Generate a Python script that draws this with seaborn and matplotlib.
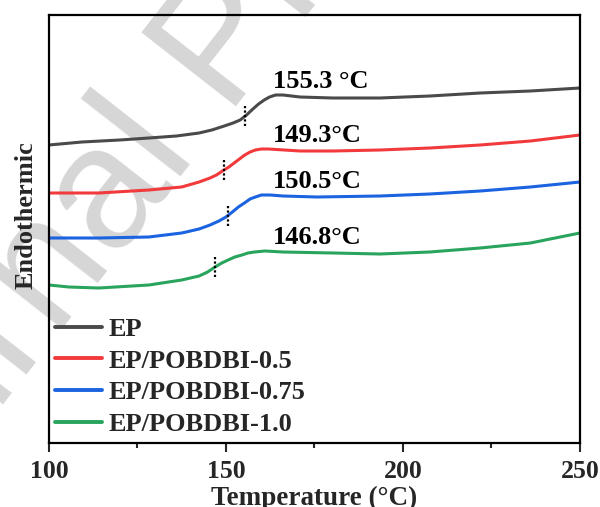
import numpy as np
import pandas as pd
import matplotlib
matplotlib.use("Agg")
import matplotlib.pyplot as plt
import seaborn as sns
from matplotlib.ticker import MultipleLocator

# ---------------- data ----------------
samples = ["EP", "EP/POBDBI-0.5", "EP/POBDBI-0.75", "EP/POBDBI-1.0"]
colors = ["#4a4a4a", "#f23a3c", "#1b63e0", "#29a45d"]
tg_values = [155.3, 149.3, 150.5, 146.8]
tg_labels = ["155.3 °C", "149.3°C", "150.5°C", "146.8°C"]

ep_T = [100.0, 109.3, 120.0, 128.2, 136.0, 142.4, 146.0, 149.5, 152.0, 154.0,
        155.8, 157.6, 159.2, 160.8, 162.3, 164.0, 166.1, 170.9, 180.2, 193.5,
        207.6, 221.8, 236.0, 250.0]
ep_hf = [298, 301, 303, 305, 307, 310, 313, 317, 320, 323,
         328, 334, 339, 343, 346, 348, 348, 346, 345, 345,
         347, 350, 352, 355]

p05_T = [100.0, 114.1, 128.2, 137.5, 142.4, 145.5, 147.3, 149.0, 150.8, 152.3,
         153.8, 155.3, 156.8, 158.3, 160.0, 162.0, 170.9, 180.2, 193.5, 207.6,
         221.8, 236.0, 250.0]
p05_hf = [250, 250, 253, 256, 261, 265, 268, 272, 276, 280,
          284, 288, 291, 293, 294, 294, 292, 292, 293, 295,
          298, 302, 308]

p075_T = [100.0, 114.1, 128.2, 137.5, 142.4, 145.5, 148.0, 150.0, 151.8, 153.5,
          155.2, 156.8, 158.3, 160.0, 162.5, 166.1, 175.7, 193.5, 207.6, 221.8,
          236.0, 250.0]
p075_hf = [205, 205, 206, 210, 214, 218, 222, 226, 231, 236,
           240, 244, 246, 248, 248, 247, 246, 247, 249, 252,
           256, 261]

p10_T = [100.0, 105.6, 114.1, 128.2, 137.5, 142.4, 144.8, 146.9, 148.8, 150.6,
         152.5, 154.5, 156.2, 158.0, 161.0, 166.1, 180.2, 193.5, 207.6, 221.8,
         236.0, 250.0]
p10_hf = [158, 156, 155, 158, 163, 167, 171, 176, 180, 183,
          186, 188, 190, 191, 192, 191, 190, 189, 191, 195,
          200, 210]

x_ticks = [100, 150, 200, 250]

series_T = [ep_T, p05_T, p075_T, p10_T]
series_hf = [ep_hf, p05_hf, p075_hf, p10_hf]

df = pd.concat(
    [pd.DataFrame({"Temperature": t, "HeatFlow": h, "Sample": s})
     for t, h, s in zip(series_T, series_hf, samples)],
    ignore_index=True,
)

# ---------------- style ----------------
sns.set_style("ticks")
plt.rcParams["font.family"] = ["Liberation Serif", "DejaVu Serif"]
plt.rcParams["font.weight"] = "bold"
plt.rcParams["axes.labelweight"] = "bold"

fig = plt.figure(figsize=(6.0, 5.07), dpi=100)
fig.patch.set_facecolor("white")
ax = fig.add_axes([49 / 600, 1 - 443 / 507, 531 / 600, 428 / 507])
ax.set_facecolor("none")

# watermark
fig.text(-0.254, -0.191, "Journal Pre-proof", rotation=52, rotation_mode="anchor",
         ha="left", va="baseline", fontsize=125, color="#d6d6d6",
         family=["Liberation Sans", "DejaVu Sans"], fontweight="normal", zorder=-5)

sns.lineplot(data=df, x="Temperature", y="HeatFlow", hue="Sample",
             hue_order=samples, palette=colors, linewidth=2.2, ax=ax,
             sort=False, estimator=None)

# Tg markers and labels
for t, h, g, lab in zip(series_T, series_hf, tg_values, tg_labels):
    yc = np.interp(g, t, h)
    ax.plot([g, g], [yc - 10, yc + 10], color="black", lw=1.6,
            linestyle=(0, (1, 1)), zorder=4)
    yl = np.interp(163.5, t, h) + 14
    ax.text(163.2, yl, lab, ha="left", va="center", fontsize=19,
            fontweight="bold", color="black")

ax.set_xlim(100, 250)
ax.set_ylim(0, 428)
ax.set_xticks(x_ticks)
ax.xaxis.set_minor_locator(MultipleLocator(25))
ax.set_yticks([])
ax.tick_params(axis="x", which="major", direction="out", length=6.5, width=1.5,
               labelsize=18.5, pad=6, bottom=True, top=False)
ax.tick_params(axis="x", which="minor", direction="out", length=3.5, width=1.5,
               bottom=True, top=False)
for sp in ax.spines.values():
    sp.set_visible(True)
    sp.set_linewidth(1.6)
    sp.set_color("black")

ax.set_xlabel("Temperature (°C)", fontsize=19.5, fontweight="bold")
ax.xaxis.set_label_coords(0.5, -0.100)
ax.xaxis.label.set_va("top")
ax.set_ylabel("Endothermic", fontsize=19, fontweight="bold")
ax.yaxis.set_label_coords(-0.022, 0.533)

leg = ax.legend(loc="upper left", bbox_to_anchor=(0.011, 0.293), frameon=False,
                fontsize=19, handlelength=1.78, handletextpad=0.25,
                labelspacing=0.31, borderaxespad=0, borderpad=0)
for line in leg.get_lines():
    line.set_linewidth(2.8)
for txt in leg.get_texts():
    txt.set_fontweight("bold")

fig.savefig("out.png", dpi=100, facecolor="white")
